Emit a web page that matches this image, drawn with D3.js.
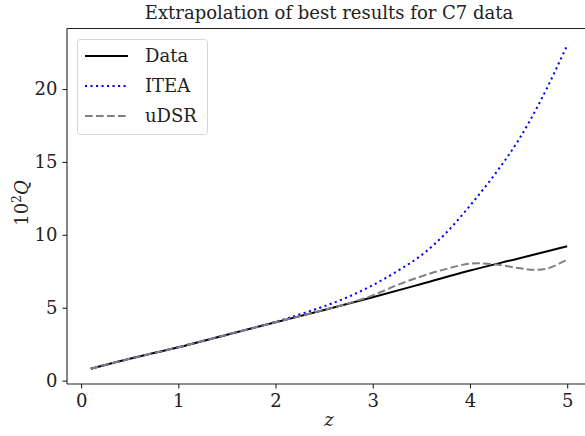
<!DOCTYPE html>
<html><head><meta charset="utf-8">
<script src="https://cdn.jsdelivr.net/npm/d3@7"></script>
<style>
  body { margin: 0; background: #fff; }
  svg { font-family: "DejaVu Serif", "Liberation Serif", serif; }
</style>
</head>
<body>
<svg width="585" height="436"></svg>
<script>
// data
var zData  = [0.1, 0.5, 1, 1.5, 2, 2.5, 3, 3.5, 4, 4.5, 5];
var qData  = [0.82, 1.5, 2.29, 3.15, 4.0, 4.85, 5.72, 6.63, 7.55, 8.38, 9.22];

var zItea  = [0.1, 0.5, 1, 1.5, 2, 2.25, 2.5, 2.75, 3, 3.25, 3.5, 3.75, 4, 4.25, 4.5, 4.75, 5];
var qItea  = [0.82, 1.5, 2.29, 3.15, 4.03, 4.55, 5.1, 5.75, 6.55, 7.5, 8.6, 10.1, 12.0, 14.1, 16.5, 19.5, 23.0];

var zUdsr  = [0.1, 0.5, 1, 1.5, 2, 2.5, 2.75, 3, 3.25, 3.5, 3.75, 4, 4.25, 4.5, 4.65, 4.8, 5];
var qUdsr  = [0.82, 1.5, 2.29, 3.15, 4.0, 4.85, 5.3, 5.85, 6.55, 7.15, 7.65, 8.02, 7.98, 7.72, 7.6, 7.7, 8.3];

var xTicks = [0, 1, 2, 3, 4, 5];
var yTicks = [0, 5, 10, 15, 20];

var series = [
  {name: "Data", z: zData, q: qData, color: "#000", dash: null},
  {name: "ITEA", z: zItea, q: qItea, color: "#0000ff", dash: "2.1,3.4"},
  {name: "uDSR", z: zUdsr, q: qUdsr, color: "#808080", dash: "7.7,3.3"}
];

//begin: layout conf.
var mLeft = 67, mRight = 591, mTop = 28.5, mBottom = 384;
var x = d3.scaleLinear().domain([-0.145, 5.245]).range([mLeft, mRight]);
var y = d3.scaleLinear().domain([-0.23, 24.15]).range([mBottom, mTop]);
var fontSize = 18;
//end: layout conf.

var svg = d3.select("svg");

var line = d3.line()
  .x(function(d){ return x(d[0]); })
  .y(function(d){ return y(d[1]); })
  .curve(d3.curveCatmullRom);

// lines
series.forEach(function(s){
  svg.append("path")
    .datum(s.z.map(function(z, i){ return [z, s.q[i]]; }))
    .attr("fill", "none")
    .attr("stroke", s.color)
    .attr("stroke-width", 2)
    .attr("stroke-dasharray", s.dash)
    .attr("d", line);
});

// axes
var xAxis = svg.append("g").attr("transform", "translate(0," + mBottom + ")")
  .call(d3.axisBottom(x).tickValues(xTicks).tickSize(4.5).tickPadding(4).tickFormat(d3.format("d")));
var yAxis = svg.append("g").attr("transform", "translate(" + mLeft + ",0)")
  .call(d3.axisLeft(y).tickValues(yTicks).tickSize(4.5).tickPadding(5).tickFormat(d3.format("d")));
[xAxis, yAxis].forEach(function(a){
  a.select(".domain").attr("stroke", "#222").attr("stroke-width", 1.1);
  a.selectAll(".tick line").attr("stroke", "#222").attr("stroke-width", 1.1);
  a.selectAll(".tick text").attr("fill", "#222")
    .style("font-family", "'DejaVu Serif', serif").style("font-size", fontSize + "px");
});
xAxis.selectAll(".tick text").attr("dy", "0.8em");
xAxis.select(".domain").attr("d", "M" + mLeft + ",0H" + mRight);
yAxis.select(".domain").attr("d", "M0," + mBottom + "V" + mTop);

// top spine
svg.append("line").attr("x1", mLeft).attr("x2", mRight).attr("y1", mTop).attr("y2", mTop)
  .attr("stroke", "#222").attr("stroke-width", 1.1);

// title and labels
svg.append("text").attr("x", 329).attr("y", 19)
  .attr("text-anchor", "middle").attr("font-size", fontSize).attr("fill", "#222")
  .text("Extrapolation of best results for C7 data");

svg.append("text").attr("x", 329).attr("y", 426)
  .attr("text-anchor", "middle").attr("font-size", fontSize).attr("font-style", "italic")
  .attr("fill", "#222").text("z");

var yl = svg.append("text").attr("transform", "translate(28,203) rotate(-90)")
  .attr("text-anchor", "middle").attr("font-size", fontSize).attr("fill", "#222");
yl.append("tspan").text("10");
yl.append("tspan").attr("dy", -7).attr("font-size", 12).text("2");
yl.append("tspan").attr("dy", 7).attr("font-style", "italic").text("Q");

// legend
var legend = svg.append("g");
legend.append("rect").attr("x", 77.5).attr("y", 39.5).attr("width", 130).attr("height", 95)
  .attr("rx", 3).attr("fill", "#fff").attr("fill-opacity", 0.8)
  .attr("stroke", "#d6d6d6").attr("stroke-width", 1);
series.forEach(function(s, i){
  var ly = 56 + i * 30;
  legend.append("line").attr("x1", 85).attr("x2", 128).attr("y1", ly).attr("y2", ly)
    .attr("stroke", s.color).attr("stroke-width", 2).attr("stroke-dasharray", s.dash);
  legend.append("text").attr("x", 145).attr("y", ly + 6).attr("font-size", fontSize)
    .attr("fill", "#222").text(s.name);
});
</script>
</body></html>
